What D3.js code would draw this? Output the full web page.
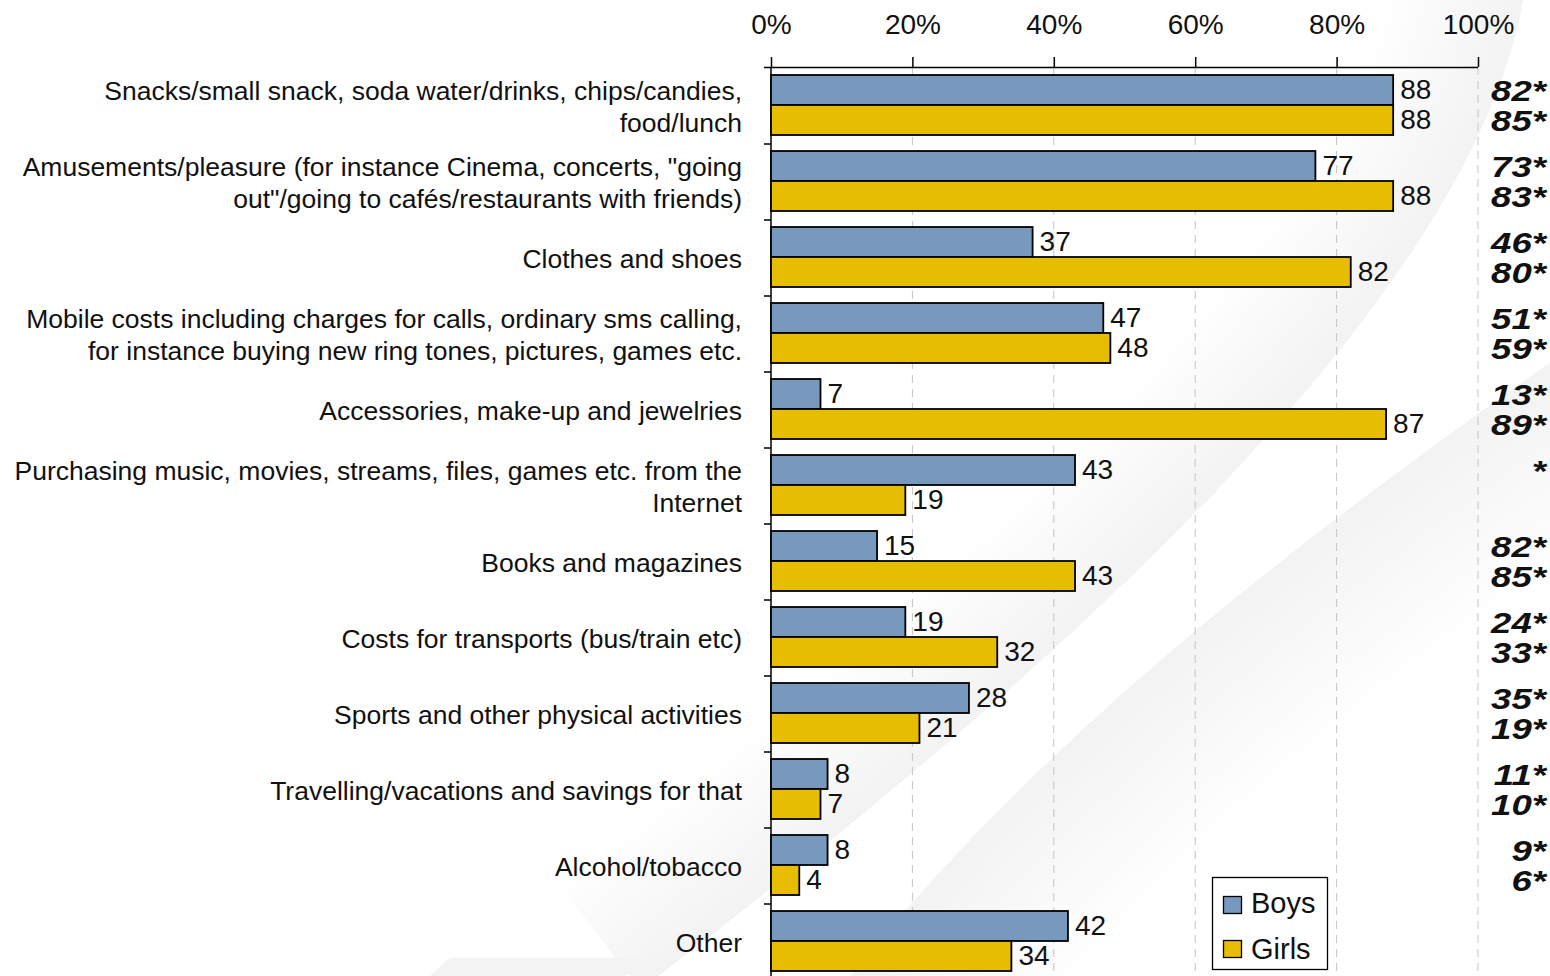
<!DOCTYPE html>
<html><head><meta charset="utf-8">
<script src="https://cdn.jsdelivr.net/npm/d3@7"></script>
<style>html,body{margin:0;padding:0;background:#fff;}svg{display:block;font-family:"Liberation Sans",Arial,sans-serif;}</style>
</head><body>
<svg id="c" width="1550" height="976"></svg>
<script>
const categories = [
  ["Snacks/small snack, soda water/drinks, chips/candies,", "food/lunch"],
  ["Amusements/pleasure (for instance Cinema, concerts, \"going", "out\"/going to cafés/restaurants with friends)"],
  ["Clothes and shoes"],
  ["Mobile costs including charges for calls, ordinary sms calling,", "for instance buying new ring tones, pictures, games etc."],
  ["Accessories, make-up and jewelries"],
  ["Purchasing music, movies, streams, files, games etc. from the", "Internet"],
  ["Books and magazines"],
  ["Costs for transports (bus/train etc)"],
  ["Sports and other physical activities"],
  ["Travelling/vacations and savings for that"],
  ["Alcohol/tobacco"],
  ["Other"]
];
const boys  = [88, 77, 37, 47, 7, 43, 15, 19, 28, 8, 8, 42];
const girls = [88, 88, 82, 48, 87, 19, 43, 32, 21, 7, 4, 34];
const boysRef  = ["82*", "73*", "46*", "51*", "13*", "*", "82*", "24*", "35*", "11*", "9*", ""];
const girlsRef = ["85*", "83*", "80*", "59*", "89*", "", "85*", "33*", "19*", "10*", "6*", ""];
const seriesNames = ["Boys", "Girls"];
const tickValues = [0, 20, 40, 60, 80, 100];

const colors = {Boys: "#7899be", Girls: "#e6bd00"};
const svg = d3.select("#c");
const W = 1550, H = 976;

// ---- faint background swooshes ----
const defs = svg.append("defs");
const c1 = "M1525,-10 C1480,280 1100,640 640,990";
const c2 = "M1640,300 C1350,500 1050,720 840,990";
defs.append("clipPath").attr("id","clipA").append("path").attr("d", c1 + " L-10,990 L-10,-10 Z");
defs.append("clipPath").attr("id","clipB").append("path").attr("d", c2 + " L1600,990 L1600,-10 Z");
const bgA = svg.append("g").attr("clip-path","url(#clipA)");
const bgB = svg.append("g").attr("clip-path","url(#clipB)");
d3.range(1, 13).forEach(k => {
  bgA.append("path").attr("d", c1).attr("fill","none").attr("stroke","#9a9a9a")
     .attr("stroke-width", k*22).attr("stroke-opacity", 0.007);
  bgB.append("path").attr("d", c2).attr("fill","none").attr("stroke","#9a9a9a")
     .attr("stroke-width", k*28).attr("stroke-opacity", 0.007);
});
svg.append("path").attr("d","M430,976 L450,958 L645,958 L625,976 Z").attr("fill","#f3f3f3");

const x = d3.scaleLinear().domain([0,100]).range([771,1478]);
const y = d3.scaleBand().domain(d3.range(categories.length)).range([67, 67+76*categories.length]);
const barH = 30;

// gridlines
svg.append("g").selectAll("line").data(tickValues.filter(d=>d>0)).join("line")
  .attr("x1",d=>x(d)).attr("x2",d=>x(d)).attr("y1",67).attr("y2",H)
  .attr("stroke","#c4c4c4").attr("stroke-width",1).attr("stroke-dasharray","8,6");

// top axis
const xAxis = d3.axisTop(x).tickValues(tickValues).tickFormat(d=>d+"%").tickSize(10).tickPadding(23);
const gx = svg.append("g").attr("transform","translate(0,67)").call(xAxis);
gx.select(".domain").attr("stroke","#000").attr("stroke-width",1.5).attr("d","M764,0.5H1478");
gx.selectAll(".tick line").attr("stroke","#000").attr("stroke-width",1.5);
gx.selectAll(".tick text").attr("font-size",28).attr("fill","#111").attr("font-family","'Liberation Sans',Arial,sans-serif");

// left axis
svg.append("line").attr("x1",771).attr("x2",771).attr("y1",67).attr("y2",H).attr("stroke","#000").attr("stroke-width",1.5);
svg.append("g").selectAll("line").data(d3.range(1,categories.length)).join("line")
  .attr("x1",764).attr("x2",771).attr("y1",d=>y(d)+1).attr("y2",d=>y(d)+1).attr("stroke","#000").attr("stroke-width",1.5);

// bars
const rows = categories.map((c,i)=>({i, vals:[boys[i], girls[i]], refs:[boysRef[i], girlsRef[i]]}));
const grp = svg.append("g").selectAll("g").data(rows).join("g")
  .attr("transform",d=>`translate(0,${y(d.i)+y.bandwidth()/2 - barH})`);
grp.selectAll("rect").data(d=>d.vals.map((v,k)=>({v,k}))).join("rect")
  .attr("x",x(0)).attr("y",d=>d.k*barH).attr("width",d=>x(d.v)-x(0)).attr("height",barH)
  .attr("fill",d=>colors[seriesNames[d.k]]).attr("stroke","#000").attr("stroke-width",1.8);
grp.selectAll("text.val").data(d=>d.vals.map((v,k)=>({v,k}))).join("text").attr("class","val")
  .attr("x",d=>x(d.v)+7).attr("y",d=>d.k*barH+barH/2+9).attr("font-size",28).attr("fill","#111").text(d=>d.v);
grp.selectAll("text.ref").data(d=>d.refs.map((r,k)=>({r,k}))).join("text").attr("class","ref")
  .attr("text-anchor","end")
  .attr("transform",d=>`translate(1546,${d.k*barH+barH/2+11}) scale(1.22,1)`)
  .attr("font-size",30).attr("font-weight","bold").attr("font-style","italic").attr("fill","#111").text(d=>d.r);

// category labels
const lab = svg.append("g").selectAll("text").data(categories.map((c,i)=>({c,i}))).join("text")
  .attr("text-anchor","end").attr("font-size",26.5).attr("fill","#111")
  .attr("y",d=>y(d.i)+y.bandwidth()/2 + 11 - (d.c.length-1)*16);
lab.selectAll("tspan").data(d=>d.c).join("tspan").attr("x",742).attr("dy",(d,k)=>k?32:0).text(d=>d);

// legend
const lg = svg.append("g").attr("transform","translate(1212,877)");
lg.append("rect").attr("x",0.5).attr("y",0.5).attr("width",115).attr("height",92).attr("fill","#fff").attr("stroke","#000").attr("stroke-width",1.3);
seriesNames.forEach((s,k)=>{
  lg.append("rect").attr("x",11.5).attr("y",19.5+k*44).attr("width",18).attr("height",17).attr("fill",colors[s]).attr("stroke","#000").attr("stroke-width",1.3);
  lg.append("text").attr("x",39).attr("y",36+k*46).attr("font-size",29).attr("fill","#111").text(s);
});
</script>
</body></html>
